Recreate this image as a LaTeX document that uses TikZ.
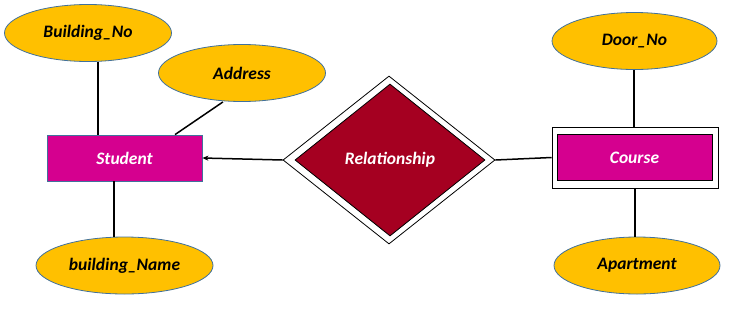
\documentclass[tikz,border=0pt]{standalone}
\usepackage{fontspec}
\setmainfont{Carlito}
\usetikzlibrary{arrows.meta, shapes.geometric}
\definecolor{attrgold}{HTML}{FFC000}
\definecolor{attredge}{HTML}{41719C}
\definecolor{entpink}{HTML}{D5008F}
\definecolor{relred}{HTML}{A50021}
\tikzset{
  attr/.style={ellipse, draw=attredge, fill=attrgold, line width=0.8pt,
               minimum width=#1, minimum height=57, inner sep=0pt,
               font=\fontsize{17.5}{20}\selectfont\bfseries\itshape},
  attr/.default=167,
  ent/.style={rectangle, draw=#1, fill=entpink, line width=0.8pt,
              minimum width=155, minimum height=46, inner sep=0pt, text=white,
              font=\fontsize{17.5}{20}\selectfont\bfseries\itshape},
  ent/.default=attredge,
  link/.style={line width=1.5pt, black},
  arr/.style={-{Stealth[length=6pt, width=5pt]}, line width=1.5pt, black},
}

\begin{document}
\begin{tikzpicture}[x=1pt, y=-1pt]
  \useasboundingbox (0,0) rectangle (730,314);

  % attributes
  \node[attr] (bno) at (88,33) {Building\_No};
  \node[attr] (addr) at (242,73) {Address};
  \node[attr=177] (bname) at (124.5,265.5) {building\_Name};
  \node[attr=165] (door) at (634.5,41) {Door\_No};
  \node[attr=166] (apt) at (637,265.5) {Apartment};

  % entities
  \node[ent] (student) at (124.5,158) {Student};
  \node[rectangle, draw=black, fill=white, line width=0.8pt,
        minimum width=166, minimum height=61] (courseout) at (635,157.5) {};
  \node[ent=black] (course) at (634.5,157.5) {Course};

  % relationship
  \node[diamond, draw=black, fill=white, line width=0.8pt, inner sep=0pt,
        minimum width=212, minimum height=168] (relout) at (389,160) {};
  \node[diamond, draw=black, fill=relred, line width=0.8pt, inner sep=0pt,
        minimum width=190, minimum height=152, text=white,
        font=\fontsize{17.5}{20}\selectfont\bfseries\itshape] (rel) at (390,160) {Relationship};

  % connectors
  \draw[link] (bno.south -| 98,0) -- (98,0 |- student.north);
  \draw[link] (addr.south) ++(-19,0) -- (175,0 |- student.north);
  \draw[link] (student.south -| 114,0) -- (114,0 |- bname.north);
  \draw[link] (door.south -| 634,0) -- (634,0 |- courseout.north);
  \draw[link] (courseout.south -| 635,0) -- (635,0 |- apt.north);
  \draw[arr] (relout.west) -- (student.east);
  \draw[link] (relout.east) -- (courseout.west);
\end{tikzpicture}
\end{document}
